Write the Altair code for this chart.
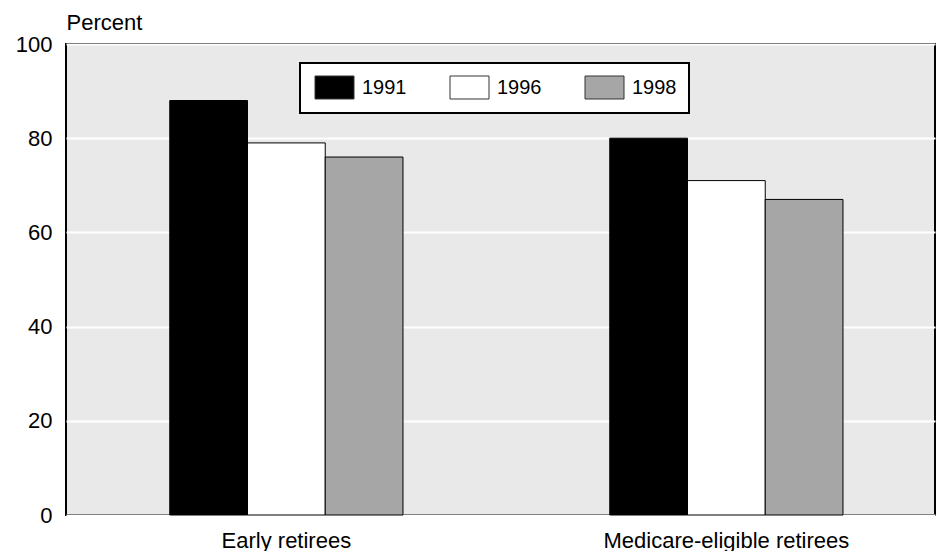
import altair as alt
import pandas as pd

groups = ["Early retirees", "Medicare-eligible retirees"]
years = ["1991", "1996", "1998"]
values_early = [88, 79, 76]
values_medicare = [80, 71, 67]
colors = ["#000000", "#ffffff", "#a6a6a6"]

rows = []
for g, vals in zip(groups, [values_early, values_medicare]):
    for yr, v in zip(years, vals):
        rows.append({"group": g, "year": yr, "value": v})
df = pd.DataFrame(rows)

FONT = "Liberation Sans"

chart = alt.Chart(df).mark_bar(stroke="#000000", strokeWidth=1).encode(
    x=alt.X(
        "group:N",
        sort=groups,
        scale=alt.Scale(paddingInner=0.47, paddingOuter=0.2225, align=0.53),
        axis=alt.Axis(
            title=None, labelAngle=0, labelFontSize=22, labelPadding=15,
            labelBaseline="top", ticks=False, domain=False, labelColor="#000000",
            labelFont=FONT, labelLimit=500,
        ),
    ),
    xOffset=alt.XOffset("year:N", sort=years, scale=alt.Scale(paddingInner=0, paddingOuter=0)),
    y=alt.Y(
        "value:Q",
        scale=alt.Scale(domain=[0, 100]),
        axis=alt.Axis(
            values=[0, 20, 40, 60, 80, 100], title="Percent", titleAngle=0,
            titleX=0, titleY=-15, titleAlign="left", titleBaseline="alphabetic",
            titleFontSize=22, titleFontWeight="normal", titleFont=FONT, titleColor="#000000",
            labelFontSize=22, labelFont=FONT, labelColor="#000000", labelPadding=14,
            ticks=False, domain=False, gridColor="#ffffff", gridWidth=2, gridOpacity=1,
        ),
    ),
    fill=alt.Fill(
        "year:N", sort=years,
        scale=alt.Scale(domain=years, range=colors),
        legend=alt.Legend(
            title=None, orient="none", legendX=234, legendY=19, direction="horizontal",
            fillColor="#ffffff", strokeColor="#000000", padding=12,
            symbolType="M-1.625,-0.958H1.625V0.958H-1.625Z", symbolSize=576,
            symbolOffset=10,
            symbolStrokeColor="#333333", symbolStrokeWidth=1, symbolOpacity=1,
            labelFontSize=20, labelFont=FONT, labelColor="#000000", labelOffset=15,
            columnPadding=40,
        ),
    ),
).properties(
    width=869, height=471,
    autosize=alt.AutoSizeParams(type="none"),
    padding={"left": 58, "top": 36, "right": 5, "bottom": 36},
).configure_view(
    fill="#e9e9e9", stroke="#000000", strokeWidth=2,
).configure_legend(
    strokeWidth=2,
)

chart.save("out.html", embed_options={"renderer": "svg", "actions": False})
